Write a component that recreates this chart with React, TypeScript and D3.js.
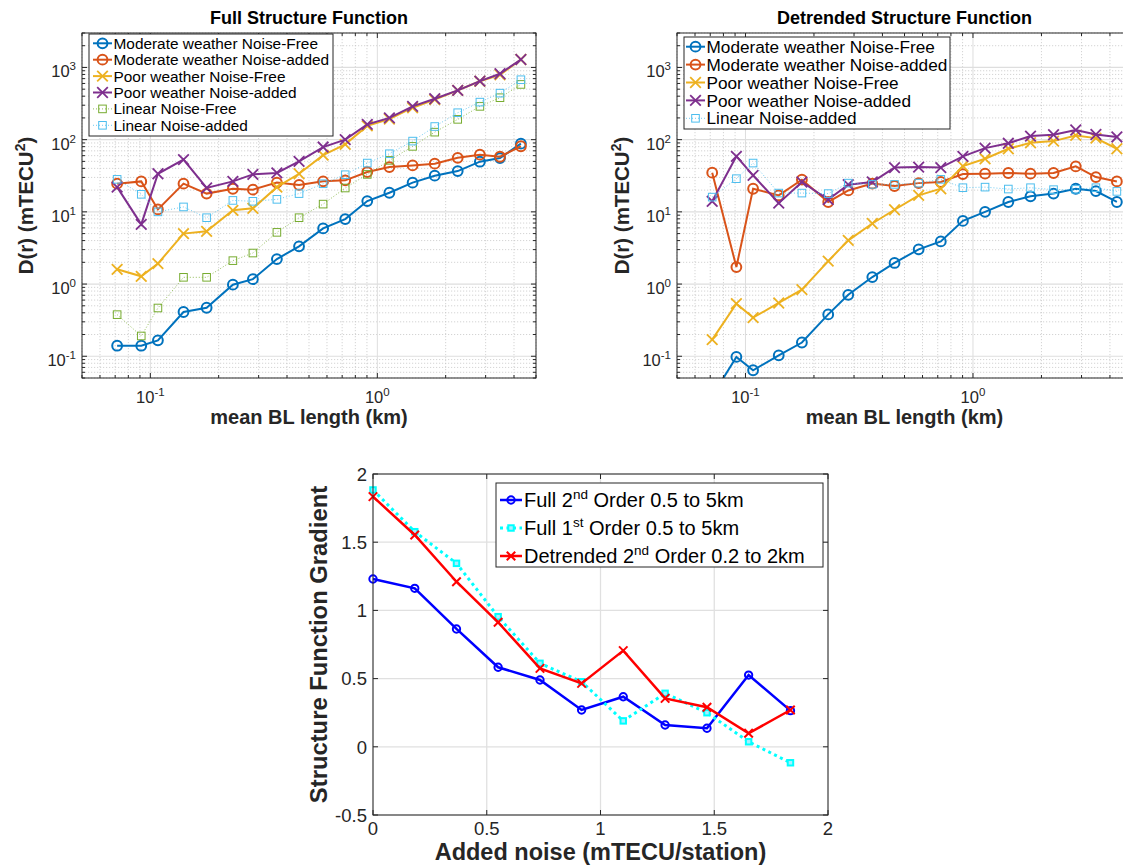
import React from 'react';
import * as d3 from 'd3';

// ---------- data ----------
const blLength = [0.0714, 0.0912, 0.108, 0.140, 0.177, 0.231, 0.283, 0.361, 0.452, 0.577, 0.722, 0.903, 1.13, 1.43, 1.79, 2.26, 2.83, 3.47, 4.29];

// Full structure function
const fullModFree = [0.14, 0.14, 0.166, 0.41, 0.47, 0.98, 1.17, 2.22, 3.33, 5.9, 7.95, 14.1, 18.4, 25.4, 31.7, 36.7, 49.5, 55.6, 88];
const fullModNoise = [24.6, 26.4, 10.8, 24.6, 17.9, 20.9, 20.3, 25.4, 23.6, 26.5, 27.3, 35.6, 41.7, 44, 46.5, 56, 62, 58, 81];
const fullPoorFree = [1.6, 1.28, 1.92, 5.0, 5.37, 10.5, 11.2, 22, 33.7, 61, 86, 155, 193, 277, 358, 481, 643, 792, 1290];
const fullPoorNoise = [22, 6.7, 33.7, 53, 21.4, 26.4, 33, 34.6, 50, 79, 100, 163, 200, 289, 369, 481, 646, 818, 1290];
const fullLinFree = [0.377, 0.191, 0.466, 1.24, 1.24, 2.11, 2.69, 5.2, 8.3, 12.8, 21.4, 33, 51.6, 80.7, 127, 191, 289, 381, 582];
const fullLinNoise = [28.2, 17.5, 10, 11.7, 8.3, 14.4, 14, 14.9, 17.9, 24.5, 32.7, 47.4, 63.8, 95.5, 152, 236, 331, 441, 676];

// Detrended structure function
const detModFree = [0.028, 0.098, 0.064, 0.103, 0.155, 0.38, 0.71, 1.25, 1.96, 3.03, 3.9, 7.5, 10, 13.7, 16.4, 17.9, 20.9, 19.4, 13.7];
const detModNoise = [34.9, 1.72, 20.9, 16.9, 27.9, 13.7, 19.8, 24.6, 22.8, 25, 25.9, 33.4, 33.8, 34.5, 33.8, 34.5, 42.6, 30.3, 26.4];
const detPoorFree = [0.17, 0.536, 0.343, 0.547, 0.838, 2.08, 4.03, 6.9, 10.7, 16.9, 20.9, 43, 54.4, 74.8, 90.6, 95.5, 114.5, 105, 74.8];
const detPoorNoise = [14, 58.7, 32, 13.2, 25.9, 14.8, 23.8, 25.9, 41, 41.7, 41, 58.7, 76.4, 89, 112, 117, 136, 118, 109];
const detLinNoise = [16, 28.8, 47.4, 18.2, 18.2, 17.9, 25, 24, 24, 25, 28.2, 21.6, 22, 20.7, 21.6, 20.3, 20.5, 21.6, 19.2];

// Gradient vs added noise
const noiseLevel = [0, 0.1835, 0.367, 0.55, 0.734, 0.917, 1.1, 1.284, 1.468, 1.651, 1.835];
const full2nd = [1.23, 1.162, 0.864, 0.583, 0.49, 0.27, 0.367, 0.16, 0.136, 0.526, 0.265];
const full1st = [1.883, 1.577, 1.345, 0.954, 0.612, 0.477, 0.19, 0.392, 0.25, 0.037, -0.117];
const detr2nd = [1.834, 1.553, 1.21, 0.913, 0.575, 0.465, 0.705, 0.355, 0.29, 0.099, 0.27];

const xTicksLin = [0, 0.5, 1, 1.5, 2];
const yTicksLin = [-0.5, 0, 0.5, 1, 1.5, 2];

// ---------- style ----------
const FONT = '"Liberation Sans", Arial, Helvetica, sans-serif';
const AX = '#262626';
const C = {
  blue: '#0072BD', orange: '#D95319', yellow: '#EDB120', purple: '#7E2F8E', green: '#77AC30', lblue: '#4DBEEE',
};

type MarkerKind = 'o' | 'x' | 's';
type Series = { values: number[]; color: string; marker: MarkerKind; dotted?: boolean; label: string };

function Marker({ kind, x, y, color, size = 1, sw = 2, fill = 'none' }: any) {
  if (kind === 'o') return <circle cx={x} cy={y} r={4.9 * size} fill={fill} stroke={color} strokeWidth={sw} />;
  if (kind === 'x') {
    const s = 5.3 * size;
    return (
      <g stroke={color} strokeWidth={sw}>
        <line x1={x - s} y1={y - s} x2={x + s} y2={y + s} />
        <line x1={x - s} y1={y + s} x2={x + s} y2={y - s} />
      </g>
    );
  }
  const s = 3.8 * size;
  return <rect x={x - s} y={y - s} width={2 * s} height={2 * s} fill={fill} stroke={color} strokeWidth={sw} />;
}

function logTicks(lo: number, hi: number) {
  const out: { v: number; major: boolean }[] = [];
  for (let e = Math.floor(Math.log10(lo)); e <= Math.ceil(Math.log10(hi)); e++) {
    for (let m = 1; m <= 9; m++) {
      const v = m * Math.pow(10, e);
      if (v >= lo * 0.9999 && v <= hi * 1.0001) out.push({ v, major: m === 1 });
    }
  }
  return out;
}

type Box = { x0: number; x1: number; y0: number; y1: number };
type LegendSpec = { x0: number; y0: number; x1: number; y1: number; row0: number; dy: number; lx0: number; lx1: number; tx: number; fs: number };

function LogPanel({ box, title, series, legend, yLabelX, id }: { box: Box; title: string; series: Series[]; legend: LegendSpec; yLabelX: number; id: string }) {
  const x = d3.scaleLog().domain([0.05, 5]).range([box.x0, box.x1]);
  const y = d3.scaleLog().domain([0.05, 3000]).range([box.y1, box.y0]);
  const xt = logTicks(0.05, 5);
  const yt = logTicks(0.05, 3000);
  const line = d3.line<number>().x((_, i) => x(blLength[i])).y((d) => y(d));
  const cx = (box.x0 + box.x1) / 2;
  const cy = (box.y0 + box.y1) / 2;
  return (
    <g>
      <defs>
        <clipPath id={id}>
          <rect x={box.x0} y={box.y0} width={box.x1 - box.x0} height={box.y1 - box.y0} />
        </clipPath>
      </defs>
      <rect x={box.x0} y={box.y0} width={box.x1 - box.x0} height={box.y1 - box.y0} fill="#fff" />
      {/* minor grid */}
      {xt.filter((t) => !t.major).map((t, i) => (
        <line key={'mx' + i} x1={x(t.v)} x2={x(t.v)} y1={box.y0} y2={box.y1} stroke="#c2c2c2" strokeWidth={0.7} strokeDasharray="1.2,1.8" />
      ))}
      {yt.filter((t) => !t.major).map((t, i) => (
        <line key={'my' + i} y1={y(t.v)} y2={y(t.v)} x1={box.x0} x2={box.x1} stroke="#c2c2c2" strokeWidth={0.7} strokeDasharray="1.2,1.8" />
      ))}
      {/* major grid */}
      {xt.filter((t) => t.major).map((t, i) => (
        <line key={'gx' + i} x1={x(t.v)} x2={x(t.v)} y1={box.y0} y2={box.y1} stroke="#dedede" strokeWidth={1} />
      ))}
      {yt.filter((t) => t.major).map((t, i) => (
        <line key={'gy' + i} y1={y(t.v)} y2={y(t.v)} x1={box.x0} x2={box.x1} stroke="#dedede" strokeWidth={1.2} />
      ))}
      {/* data */}
      <g clipPath={`url(#${id})`}>
        {series.map((s, si) => (
          <g key={si}>
            <path d={line(s.values) || ''} fill="none" stroke={s.color} strokeWidth={s.dotted ? 0.8 : 2} strokeDasharray={s.dotted ? '1,2' : undefined} />
            {s.values.map((v, i) => (
              <Marker key={i} kind={s.marker} x={x(blLength[i])} y={y(v)} color={s.color} sw={s.marker === 's' ? 1 : s.marker === 'x' ? 1.8 : 2} />
            ))}
          </g>
        ))}
      </g>
      {/* axes box */}
      <rect x={box.x0} y={box.y0} width={box.x1 - box.x0} height={box.y1 - box.y0} fill="none" stroke={AX} strokeWidth={1} />
      {xt.map((t, i) => {
        const L = t.major ? 5 : 3;
        const px = x(t.v);
        return (
          <g key={'tx' + i} stroke={AX} strokeWidth={1}>
            <line x1={px} x2={px} y1={box.y1} y2={box.y1 - L} />
            <line x1={px} x2={px} y1={box.y0} y2={box.y0 + L} />
          </g>
        );
      })}
      {yt.map((t, i) => {
        const L = t.major ? 5 : 3;
        const py = y(t.v);
        return (
          <g key={'ty' + i} stroke={AX} strokeWidth={1}>
            <line x1={box.x0} x2={box.x0 + L} y1={py} y2={py} />
            <line x1={box.x1} x2={box.x1 - L} y1={py} y2={py} />
          </g>
        );
      })}
      {/* tick labels */}
      {xt.filter((t) => t.major).map((t, i) => (
        <text key={'lx' + i} x={x(t.v)} y={box.y1 + 25} textAnchor="middle" fontSize={16.5} fill={AX}>
          10<tspan dy={-7} fontSize={11.5}>{Math.round(Math.log10(t.v))}</tspan>
        </text>
      ))}
      {yt.filter((t) => t.major).map((t, i) => (
        <text key={'ly' + i} x={box.x0 - 6} y={y(t.v) + 10} textAnchor="end" fontSize={16.5} fill={AX}>
          10<tspan dy={-7} fontSize={11.5}>{Math.round(Math.log10(t.v))}</tspan>
        </text>
      ))}
      {/* titles / labels */}
      <text x={cx} y={24} textAnchor="middle" fontSize={18} fontWeight="bold" fill="#000">{title}</text>
      <text x={cx} y={box.y1 + 46} textAnchor="middle" fontSize={20} fontWeight="bold" fill={AX}>mean BL length (km)</text>
      <text transform={`translate(${yLabelX},${cy}) rotate(-90)`} textAnchor="middle" fontSize={20.5} fontWeight="bold" fill={AX}>
        D(r) (mTECU<tspan dy={-8} fontSize={14}>2</tspan><tspan dy={8}>)</tspan>
      </text>
      {/* legend */}
      <rect x={legend.x0} y={legend.y0} width={legend.x1 - legend.x0} height={legend.y1 - legend.y0} fill="#fff" stroke={AX} strokeWidth={1} />
      {series.map((s, i) => {
        const ry = legend.row0 + i * legend.dy;
        return (
          <g key={'lg' + i}>
            <line x1={legend.lx0} x2={legend.lx1} y1={ry} y2={ry} stroke={s.color} strokeWidth={s.dotted ? 0.8 : 2} strokeDasharray={s.dotted ? '1,2' : undefined} />
            <Marker kind={s.marker} x={(legend.lx0 + legend.lx1) / 2} y={ry} color={s.color} sw={s.marker === 's' ? 1 : s.marker === 'x' ? 1.8 : 2} />
            <text x={legend.tx} y={ry + legend.fs * 0.36} fontSize={legend.fs} fill="#000">{s.label}</text>
          </g>
        );
      })}
    </g>
  );
}

function GradientPanel() {
  const box = { x0: 373, x1: 828, y0: 474, y1: 815 };
  const x = d3.scaleLinear().domain([0, 2]).range([box.x0, box.x1]);
  const y = d3.scaleLinear().domain([-0.5, 2]).range([box.y1, box.y0]);
  const line = d3.line<number>().x((_, i) => x(noiseLevel[i])).y((d) => y(d));
  const cy = (box.y0 + box.y1) / 2;
  const fmt = (v: number) => String(v);
  const leg = [
    { color: '#0000FF', kind: 'o', dotted: false, pre: 'Full 2', sup: 'nd', post: ' Order 0.5 to 5km' },
    { color: '#00FFFF', kind: 's', dotted: true, pre: 'Full 1', sup: 'st', post: ' Order 0.5 to 5km' },
    { color: '#FF0000', kind: 'x', dotted: false, pre: 'Detrended 2', sup: 'nd', post: ' Order 0.2 to 2km' },
  ];
  return (
    <g>
      <rect x={box.x0} y={box.y0} width={box.x1 - box.x0} height={box.y1 - box.y0} fill="#fff" />
      {xTicksLin.map((t) => (
        <line key={'gx' + t} x1={x(t)} x2={x(t)} y1={box.y0} y2={box.y1} stroke="#e0e0e0" strokeWidth={1.3} />
      ))}
      {yTicksLin.map((t) => (
        <line key={'gy' + t} y1={y(t)} y2={y(t)} x1={box.x0} x2={box.x1} stroke="#e0e0e0" strokeWidth={1.3} />
      ))}
      {/* blue */}
      <path d={line(full2nd) || ''} fill="none" stroke="#0000FF" strokeWidth={2.5} />
      {full2nd.map((v, i) => (
        <Marker key={'b' + i} kind="o" x={x(noiseLevel[i])} y={y(v)} color="#0000FF" size={0.75} sw={2} />
      ))}
      {/* cyan */}
      <path d={line(full1st) || ''} fill="none" stroke="#00FFFF" strokeWidth={3} strokeDasharray="3,3.5" />
      {full1st.map((v, i) => (
        <Marker key={'c' + i} kind="s" x={x(noiseLevel[i])} y={y(v)} color="#00FFFF" size={0.72} sw={2} fill="#aef" />
      ))}
      {/* red */}
      <path d={line(detr2nd) || ''} fill="none" stroke="#FF0000" strokeWidth={2.5} />
      {detr2nd.map((v, i) => (
        <Marker key={'r' + i} kind="x" x={x(noiseLevel[i])} y={y(v)} color="#FF0000" size={0.8} sw={2} />
      ))}
      <rect x={box.x0} y={box.y0} width={box.x1 - box.x0} height={box.y1 - box.y0} fill="none" stroke={AX} strokeWidth={1} />
      {xTicksLin.map((t) => (
        <g key={'tx' + t} stroke={AX}>
          <line x1={x(t)} x2={x(t)} y1={box.y1} y2={box.y1 - 5} />
          <line x1={x(t)} x2={x(t)} y1={box.y0} y2={box.y0 + 5} />
        </g>
      ))}
      {yTicksLin.map((t) => (
        <g key={'ty' + t} stroke={AX}>
          <line x1={box.x0} x2={box.x0 + 5} y1={y(t)} y2={y(t)} />
          <line x1={box.x1} x2={box.x1 - 5} y1={y(t)} y2={y(t)} />
        </g>
      ))}
      {xTicksLin.map((t) => (
        <text key={'lx' + t} x={x(t)} y={box.y1 + 20} textAnchor="middle" fontSize={18.5} fill={AX}>{fmt(t)}</text>
      ))}
      {yTicksLin.map((t) => (
        <text key={'ly' + t} x={box.x0 - 6} y={y(t) + 6.7} textAnchor="end" fontSize={18.5} fill={AX}>{fmt(t)}</text>
      ))}
      <text x={(box.x0 + box.x1) / 2} y={860} textAnchor="middle" fontSize={23.5} fontWeight="bold" fill={AX}>Added noise (mTECU/station)</text>
      <text transform={`translate(327,${cy}) rotate(-90)`} textAnchor="middle" fontSize={23.8} fontWeight="bold" fill={AX}>Structure Function Gradient</text>
      {/* legend */}
      <rect x={496} y={483} width={327} height={84} fill="#fff" stroke={AX} strokeWidth={1} />
      {leg.map((l, i) => {
        const ry = 500 + i * 28;
        return (
          <g key={'bl' + i}>
            <line x1={500} x2={522} y1={ry} y2={ry} stroke={l.color} strokeWidth={l.dotted ? 3 : 2.5} strokeDasharray={l.dotted ? '3,3.5' : undefined} />
            <Marker kind={l.kind} x={511} y={ry} color={l.color} size={l.kind === 'o' ? 0.75 : l.kind === 's' ? 0.72 : 0.8} sw={2} fill={l.kind === 's' ? '#aef' : 'none'} />
            <text x={524} y={ry + 7} fontSize={20} fill="#000">
              {l.pre}<tspan dy={-8} fontSize={13.5}>{l.sup}</tspan><tspan dy={8}>{l.post}</tspan>
            </text>
          </g>
        );
      })}
    </g>
  );
}

export default function App() {
  const fullSeries: Series[] = [
    { values: fullModFree, color: C.blue, marker: 'o', label: 'Moderate weather Noise-Free' },
    { values: fullModNoise, color: C.orange, marker: 'o', label: 'Moderate weather Noise-added' },
    { values: fullPoorFree, color: C.yellow, marker: 'x', label: 'Poor weather Noise-Free' },
    { values: fullPoorNoise, color: C.purple, marker: 'x', label: 'Poor weather Noise-added' },
    { values: fullLinFree, color: C.green, marker: 's', dotted: true, label: 'Linear Noise-Free' },
    { values: fullLinNoise, color: C.lblue, marker: 's', dotted: true, label: 'Linear Noise-added' },
  ];
  const detSeries: Series[] = [
    { values: detModFree, color: C.blue, marker: 'o', label: 'Moderate weather Noise-Free' },
    { values: detModNoise, color: C.orange, marker: 'o', label: 'Moderate weather Noise-added' },
    { values: detPoorFree, color: C.yellow, marker: 'x', label: 'Poor weather Noise-Free' },
    { values: detPoorNoise, color: C.purple, marker: 'x', label: 'Poor weather Noise-added' },
    { values: detLinNoise, color: C.lblue, marker: 's', dotted: true, label: 'Linear Noise-added' },
  ];
  return (
    <svg width={1123} height={867} style={{ position: 'absolute', left: 0, top: 0, background: '#fff' }} fontFamily={FONT}>
      <rect x={0} y={0} width={1123} height={867} fill="#fff" />
      <LogPanel
        id="clipFull"
        box={{ x0: 82, x1: 536, y0: 33, y1: 378 }}
        title="Full Structure Function"
        series={fullSeries}
        yLabelX={33}
        legend={{ x0: 89, y0: 34, x1: 333, y1: 136, row0: 43.3, dy: 16.4, lx0: 93, lx1: 112, tx: 113.5, fs: 15.4 }}
      />
      <LogPanel
        id="clipDet"
        box={{ x0: 677, x1: 1132, y0: 33, y1: 378 }}
        title="Detrended Structure Function"
        series={detSeries}
        yLabelX={629}
        legend={{ x0: 684, y0: 37, x1: 950, y1: 129, row0: 46.7, dy: 17.9, lx0: 686, lx1: 705, tx: 706.5, fs: 17.2 }}
      />
      <GradientPanel />
    </svg>
  );
}
